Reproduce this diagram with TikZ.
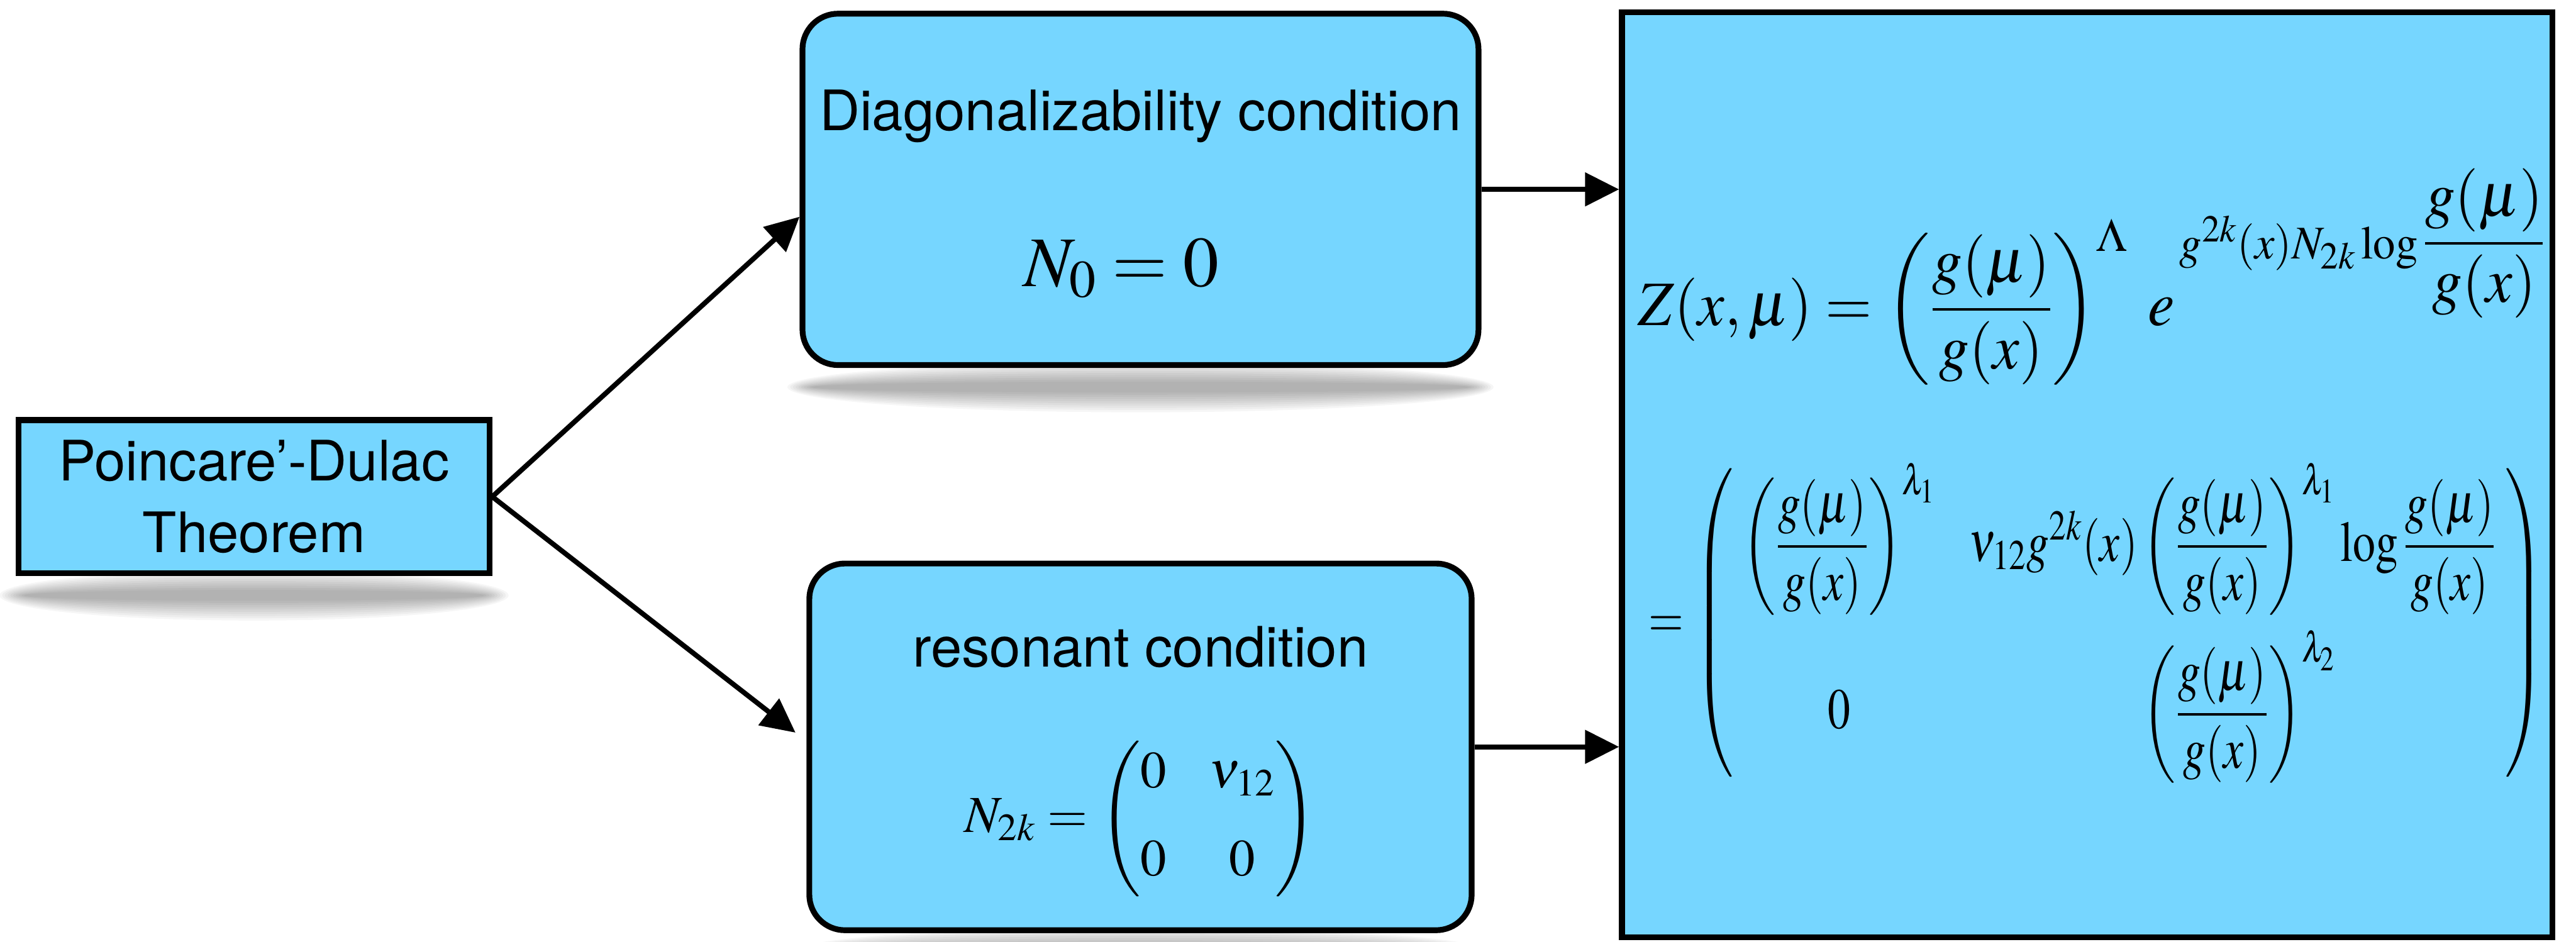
\documentclass[tikz,border=0pt]{standalone}
\usepackage{amsmath}
\usepackage{mathptmx}
\usepackage[no-math]{fontspec}
\setmainfont{TeX Gyre Heros}
\usepackage{tikz}
\usetikzlibrary{arrows.meta, positioning, backgrounds}
\definecolor{skyblue}{RGB}{118, 214, 255}

\tikzset{
  box/.style={rectangle, draw=black, line width=3pt, fill=skyblue, inner sep=0pt},
  roundbox/.style={box, rounded corners=0.65cm},
  lbl/.style={font=\fontsize{29}{37}\selectfont, align=center, inner sep=0pt},
  arr/.style={line width=2.6pt, -{Triangle[length=0.62cm, width=0.6cm]}},
}

\begin{document}
\begin{tikzpicture}
    \useasboundingbox (0,0) rectangle (47.06,-17.21);
    % Boxes
    \node (theorem) [box, lbl, minimum width=8.6cm, minimum height=2.8cm] at (4.64,-9.075) {Poincare’-Dulac\\Theorem};
    \node (diag) [roundbox, minimum width=12.35cm, minimum height=6.42cm] at (20.835,-3.46) {};
    \node (reson) [roundbox, minimum width=12.1cm, minimum height=6.7cm, below=3.52cm of diag] {};
    \node (result) [box, minimum width=17.0cm, minimum height=16.9cm] at (38.13,-8.675) {};

    % Conditions
    \node (diagtxt) [lbl, anchor=base] at ([yshift=-2.19cm]diag.north) {Diagonalizability condition};
    \node (diageq) [anchor=base, font=\fontsize{37}{44}\selectfont] at ([xshift=-0.35cm, yshift=-5.04cm]diag.north) {$N_0 = 0$};
    \node (resontxt) [lbl, anchor=base] at ([yshift=-1.94cm]reson.north) {resonant condition};
    \node (resoneq) [anchor=base, font=\fontsize{27}{33}\selectfont] at ([yshift=-4.96cm]reson.north) {\setlength{\arraycolsep}{11pt}$N_{2k} = \begin{pmatrix} 0 & \nu_{12}\\[0.45cm] 0 & 0 \end{pmatrix}$};

    % Solution
    \node (zrow) [anchor=base west, font=\fontsize{32}{38}\selectfont] at (29.8,-5.94) {\resizebox*{16.59cm}{3.96cm}{$Z(x,\mu) = \left(\dfrac{g(\mu)}{g(x)}\right)^{\Lambda}\; e^{\,g^{2k}(x)N_{2k}\log\dfrac{g(\mu)}{g(x)}}$}};
    \node (mrow) [anchor=west, font=\fontsize{25}{30}\selectfont] at (30.0,-11.38) {\resizebox*{16.36cm}{5.85cm}{$= \left(\begin{array}{cl}
        \left(\dfrac{g(\mu)}{g(x)}\right)^{\lambda_1} & \hspace{0.3cm}\nu_{12} g^{2k}(x) \left(\dfrac{g(\mu)}{g(x)}\right)^{\lambda_1} \log\dfrac{g(\mu)}{g(x)} \\[0.75cm]
        0 & \hspace{0.3cm}\phantom{\nu_{12} g^{2k}(x)}\left(\dfrac{g(\mu)}{g(x)}\right)^{\lambda_2}
      \end{array}\right)$}};

    % Arrows
    \draw[arr] (theorem.east) -- ([yshift=-0.5cm]diag.west);
    \draw[arr] (theorem.east) -- ([xshift=-0.2cm, yshift=0.26cm]reson.west);
    \draw[arr] (diag.east) -- (diag.east -| result.west);
    \draw[arr] (reson.east) -- (reson.east -| result.west);

    % Shadows
    \begin{scope}[on background layer]
      \foreach \r in {1,...,10} {
        \fill[black, opacity=0.035] ([yshift=-0.35cm]theorem.south) ellipse ({4.7-0.05*\r} and {0.5-0.04*\r});
        \fill[black, opacity=0.035] ([yshift=-0.35cm]diag.south) ellipse ({6.5-0.05*\r} and {0.5-0.04*\r});
        \fill[black, opacity=0.035] ([yshift=-0.35cm]reson.south) ellipse ({6.4-0.05*\r} and {0.5-0.04*\r});
      }
    \end{scope}
\end{tikzpicture}
\end{document}
